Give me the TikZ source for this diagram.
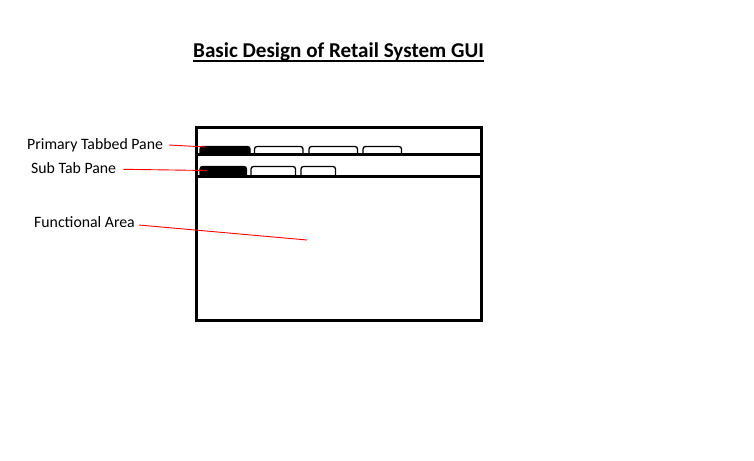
\documentclass[tikz,border=0pt]{standalone}
\usepackage{fontspec}
\setmainfont{Carlito}
\begin{document}
\begin{tikzpicture}[x=1pt,y=-1pt,
  frame/.style={line width=3pt},
  tabshape/.style={line width=1.3pt, rounded corners=2.5pt},
  lbl/.style={anchor=base west, inner sep=0pt, font=\fontsize{15.8}{19}\selectfont},
  pointer/.style={red, line width=0.9pt}]
\useasboundingbox (0,0) rectangle (754,460);
% title
\node[anchor=base west, inner sep=0pt, font=\bfseries\fontsize{21.1}{26}\selectfont] (title) at (193,57) {Basic Design of Retail System GUI};
\draw[line width=2pt] (title.base west |- 0,61) -- (title.base east |- 0,61);
% outer frame
\draw[frame] (196,127.5) rectangle (481.5,320);
\draw[frame] (196,154.5) -- (483,154.5);
\draw[frame] (196,176.5) -- (481.5,176.5);
% primary tabs
\draw[tabshape, fill=black] (200,153) -- (200,146.5) -- (250,146.5) -- (250,153);
\draw[tabshape] (254.5,153) -- (254.5,146.5) -- (303,146.5) -- (303,153);
\draw[tabshape] (309,153) -- (309,146.5) -- (357.5,146.5) -- (357.5,153);
\draw[tabshape] (363,153) -- (363,146.5) -- (401.5,146.5) -- (401.5,153);
% sub tabs
\draw[tabshape, fill=black] (200,175) -- (200,166.5) -- (246.5,166.5) -- (246.5,175);
\draw[tabshape] (251,175) -- (251,166.5) -- (295.5,166.5) -- (295.5,175);
\draw[tabshape] (301,175) -- (301,166.5) -- (335.5,166.5) -- (335.5,175);
% labels
\node[lbl] (primary) at (27,149.5) {Primary Tabbed Pane};
\node[lbl] (subtab) at (31,173.3) {Sub Tab Pane};
\node[lbl] (func) at (34,227.7) {Functional Area};
\coordinate (ptab) at (206,147);
\coordinate (stab) at (207,170.5);
\coordinate (farea) at (307,240);
\draw[pointer] ([shift={(6,-4.5)}]primary.base east) -- (ptab);
\draw[pointer] ([shift={(7,-4)}]subtab.base east) -- (stab);
\draw[pointer] ([shift={(4,-2.7)}]func.base east) -- (farea);
\end{tikzpicture}
\end{document}
